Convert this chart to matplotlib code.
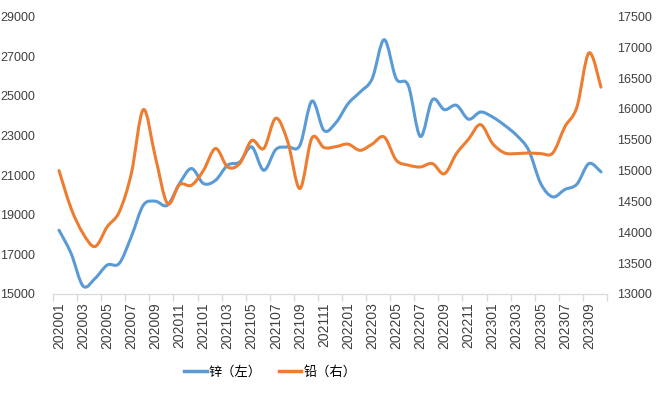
import numpy as np
import matplotlib
matplotlib.use('Agg')
from matplotlib import pyplot as plt
from matplotlib.path import Path
from matplotlib.patches import PathPatch
from matplotlib.lines import Line2D

plt.rcParams['font.family'] = ['Liberation Sans', 'Noto Sans CJK SC', 'DejaVu Sans']

# 月份 202001 - 202310
months = [f'{y}{m:02d}' for y in (2020, 2021, 2022, 2023) for m in range(1, 13)][:46]

# 锌（左轴）
zinc = [18220, 17050, 15400, 15790, 16460, 16545, 17890, 19480, 19680, 19480,
        20570, 21330, 20570, 20740, 21500, 21660, 22420, 21240, 22290, 22420,
        22500, 24735, 23250, 23650, 24600, 25190, 25860, 27830, 25860, 25520,
        22950, 24800, 24300, 24520, 23820, 24180, 23930, 23510, 23000, 22250,
        20570, 19900, 20270, 20540, 21580, 21160]

# 铅（右轴）
lead = [15000, 14390, 13980, 13770, 14090, 14330, 14950, 15990, 15222, 14468,
        14775, 14764, 15007, 15360, 15060, 15115, 15490, 15360, 15850, 15465,
        14710, 15530, 15375, 15390, 15430, 15330, 15430, 15546, 15170, 15090,
        15060, 15115, 14950, 15277, 15510, 15747, 15440, 15287, 15277, 15287,
        15277, 15287, 15710, 16030, 16910, 16355]

zinc_color = '#5B9BD5'
lead_color = '#ED7D31'


def smooth_path(xs, ys):
    # 平滑曲线（类似Excel的平滑线）
    pts = np.column_stack([xs, ys]).astype(float)
    verts = [pts[0]]
    codes = [Path.MOVETO]
    n = len(pts)
    for i in range(n - 1):
        p0 = pts[i - 1] if i > 0 else pts[i]
        p1 = pts[i]
        p2 = pts[i + 1]
        p3 = pts[i + 2] if i + 2 < n else pts[i + 1]
        c1 = p1 + (p2 - p0) / 6
        c2 = p2 - (p3 - p1) / 6
        verts += [c1, c2, p2]
        codes += [Path.CURVE4] * 3
    return Path(verts, codes)


fig = plt.figure(figsize=(6.67, 3.96), dpi=100)
ax = fig.add_axes([53 / 667, 102 / 396, 554 / 667, 277.5 / 396])
ax2 = ax.twinx()

x = np.arange(len(months))
ax.add_patch(PathPatch(smooth_path(x, zinc), fill=False, edgecolor=zinc_color,
                       lw=2.2, capstyle='round', joinstyle='round'))
ax2.add_patch(PathPatch(smooth_path(x, lead), fill=False, edgecolor=lead_color,
                        lw=2.2, capstyle='round', joinstyle='round'))

ax.set_xlim(-0.5, len(months) - 0.5)
ax.set_ylim(15000, 29000)
ax.set_yticks(range(15000, 29001, 2000))
ax2.set_ylim(13000, 17500)
ax2.set_yticks(range(13000, 17501, 500))

ax.set_xticks(x[::2])
ax.set_xticklabels(months[::2], rotation=90, fontsize=10, color='#404040')
ax.set_xticks(np.arange(-0.5, len(months), 2), minor=True)
ax.tick_params(axis='x', which='major', length=0, pad=6)
ax.tick_params(axis='x', which='minor', length=5, color='#D9D9D9', width=1)
ax.tick_params(axis='y', length=0, pad=13, labelsize=9, labelcolor='#404040')
ax2.tick_params(axis='y', length=0, pad=7, labelsize=9, labelcolor='#404040')

for a in (ax, ax2):
    for s in ('top', 'left', 'right'):
        a.spines[s].set_visible(False)
    a.spines['bottom'].set_color('#D9D9D9')

handles = [Line2D([], [], color=zinc_color, lw=2.5),
           Line2D([], [], color=lead_color, lw=2.5)]
fig.legend(handles, ['锌（左）', '铅（右）'], loc='center', bbox_to_anchor=(0.405, 0.06),
           ncol=2, frameon=False, handlelength=1.7, handletextpad=0.15,
           columnspacing=1.3, prop={'family': ['Noto Sans CJK SC'], 'size': 9.5})

plt.savefig('out.png', dpi=100)
